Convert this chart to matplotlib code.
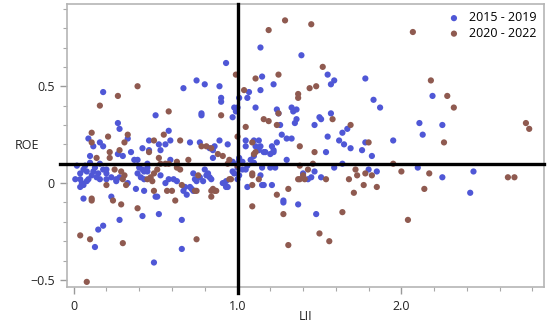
import matplotlib
matplotlib.use("Agg")
import matplotlib.pyplot as plt
from matplotlib.ticker import FixedLocator, MultipleLocator

plt.rcParams['font.family'] = ['Open Sans', 'DejaVu Sans']

# 2015 - 2019 (LII, ROE)
lii_a = [1.14, 1.39, 0.93, 1.15, 1.22, 0.75, 0.80, 0.89, 0.67, 0.18, 0.90, 0.90, 1.07, 1.06, 1.14,
         1.01, 0.98, 1.00, 0.99, 1.11, 1.24, 1.33, 1.36, 0.50, 0.78, 0.78, 0.97, 1.55, 1.57, 1.59,
         1.78, 1.83, 1.87, 2.19, 1.57, 1.50, 1.51, 1.47, 1.67, 1.64, 1.55, 1.62, 1.65, 1.69, 1.78,
         1.76, 1.95, 2.11, 2.13, 2.25, 1.54, 1.82, 1.30, 1.25, 1.26, 1.27, 1.34, 1.36, 1.35, 1.33,
         0.27, 0.28, 0.09, 0.12, 0.16, 0.18, 0.33, 0.58, 0.59, 0.56, 0.46, 0.52, 0.71, 0.77, 0.89,
         0.94, 0.86, 0.83, 0.85, 1.05, 1.05, 1.13, 1.14, 1.21, 1.10, 1.11, 1.13, 1.16, 1.20, 1.22,
         1.24, 1.30, 0.42, 0.35, 0.27, 0.30, 0.53, 0.46, 0.10, 0.85, 1.10, 1.17, 1.22, 1.01, 1.01,
         0.37, 0.39, 0.59, 1.64, 1.59, 2.10, 1.80, 1.85, 1.40, 1.45, 1.47, 1.51, 1.43, 2.25, 2.44,
         2.42, 1.28, 1.28, 1.37, 1.48,
         0.10, 0.16, 0.45, 0.97, 1.00, 1.03, 1.06, 1.10, 1.08, 1.00, 1.03, 1.05, 0.73, 0.80, 0.82,
         0.83, 0.84, 0.81, 0.97, 0.98, 0.91, 0.93, 1.15, 1.20, 1.23, 1.15, 1.06, 0.71, 0.73, 0.93,
         0.94, 1.00, 1.01, 1.14, 1.16, 1.21, 0.61, 0.63, 0.56, 0.58, 0.20, 0.23, 0.26, 0.26, 0.33,
         0.28, 0.41, 0.43, 0.38, 0.43, 0.50, 0.51, 0.69, 0.68, 0.72, 0.06, 0.23, 0.42, 0.52, 0.66,
         0.67, 0.28, 0.15, 0.18, 0.13, 0.49, 0.66,
         0.01, 0.04, 0.04, 0.06, 0.08, 0.05, 0.04, 0.06, 0.08, 0.12, 0.13, 0.15, 0.18, 0.20, 0.20,
         0.02, 0.07, 0.11, 0.14, 0.09, 0.16, 0.39, 0.40, 0.43, 0.45, 0.45, 0.42, 0.77, 0.74, 0.79,
         0.75, 0.53]
roe_a = [0.70, 0.66, 0.62, 0.55, 0.51, 0.53, 0.51, 0.50, 0.49, 0.47, 0.44, 0.42, 0.47, 0.44, 0.48,
         0.44, 0.39, 0.39, 0.37, 0.39, 0.38, 0.39, 0.38, 0.35, 0.36, 0.35, 0.34, 0.56, 0.51, 0.53,
         0.54, 0.43, 0.39, 0.45, 0.36, 0.34, 0.33, 0.30, 0.28, 0.26, 0.24, 0.22, 0.20, 0.18, 0.21,
         0.17, 0.22, 0.31, 0.25, 0.30, 0.16, 0.14, 0.12, 0.36, 0.30, 0.25, 0.37, 0.33, 0.31, 0.23,
         0.31, 0.28, 0.23, 0.19, 0.21, 0.19, 0.23, 0.27, 0.22, 0.20, 0.22, 0.20, 0.21, 0.21, 0.22,
         0.20, 0.19, 0.18, 0.17, 0.22, 0.19, 0.22, 0.19, 0.19, 0.22, 0.19, 0.17, 0.16, 0.15, 0.17,
         0.21, 0.23, 0.18, 0.16, 0.15, 0.14, 0.17, 0.17, 0.14, 0.13, 0.14, 0.16, 0.16, 0.13, 0.12,
         0.12, 0.12, 0.12, 0.10, 0.08, 0.08, 0.07, 0.06, 0.05, 0.03, 0.06, 0.03, 0.02, 0.03, 0.06,
         -0.05, -0.09, -0.10, -0.11, -0.16,
         0.105, 0.10, 0.10, 0.11, 0.10, 0.11, 0.09, 0.105, 0.12, 0.08, 0.07, 0.07, 0.05, 0.07, 0.05,
         0.03, 0.02, 0.04, 0.06, 0.05, 0.00, 0.01, 0.08, 0.08, 0.08, -0.01, -0.02, -0.02, -0.04, -0.02,
         -0.02, 0.02, 0.04, 0.04, -0.01, -0.01, 0.02, 0.01, 0.00, 0.02, 0.02, 0.03, 0.01, 0.02, 0.00,
         0.03, 0.03, 0.02, -0.03, -0.04, -0.07, -0.07, -0.06, -0.02, -0.03, -0.08, -0.07, -0.17, -0.16, -0.19,
         -0.04, -0.19, -0.24, -0.22, -0.33, -0.41, -0.34,
         0.02, 0.02, -0.02, -0.01, 0.01, 0.00, 0.05, 0.07, 0.06, 0.06, 0.08, 0.05, 0.07, 0.05, 0.07,
         0.09, 0.09, 0.04, 0.03, 0.02, 0.02, 0.05, 0.08, 0.06, 0.08, 0.06, 0.07, 0.03, 0.02, 0.01,
         0.01, 0.04]

# 2020 - 2022 (LII, ROE)
lii_b = [1.29, 1.19, 1.45, 2.07, 0.99, 1.11, 1.25, 0.39, 0.27, 0.16, 1.04, 1.37, 1.37, 0.58, 1.25,
         0.90, 1.52, 1.44, 1.48, 2.18, 2.28, 2.32, 1.16, 1.19, 1.05, 1.00, 1.24, 1.58, 1.69, 1.80,
         2.26, 2.76, 2.78, 1.47, 1.38,
         0.11, 0.11, 0.21, 0.33, 0.31, 0.55, 0.49, 0.65, 0.81, 0.78, 1.09, 0.22, 0.14, 0.22, 0.28,
         0.46, 0.70, 0.88, 0.91, 1.11, 1.10, 0.84, 0.52, 0.53, 0.56, 0.58, 0.63, 0.95, 0.94, 1.00,
         1.46, 1.95, 1.38, 1.43, 1.41, 1.37, 1.54, 1.72, 1.73, 1.68, 1.78, 1.82, 1.77, 1.85, 1.71,
         2.00, 2.17, 2.65, 2.69, 2.14, 1.31, 1.24, 1.28, 1.64, 2.04, 1.50, 1.56, 1.31, 1.40, 1.38,
         1.09, 1.09, 1.09, 1.13, 1.09, 0.95, 0.96, 0.76, 0.74, 0.75, 0.84, 0.86, 0.84, 0.87, 0.85,
         0.66, 0.57, 0.60, 0.62, 0.49, 0.45, 0.47, 0.49, 0.51, 0.48, 0.63, 0.65, 0.25, 0.29, 0.30,
         0.31, 0.32, 0.20, 0.11, 0.11, 0.24, 0.29, 0.39, 0.04, 0.10, 0.30, 0.75, 0.08]
roe_b = [0.84, 0.79, 0.82, 0.78, 0.56, 0.54, 0.56, 0.50, 0.45, 0.40, 0.48, 0.46, 0.44, 0.37, 0.36,
         0.35, 0.60, 0.49, 0.50, 0.53, 0.45, 0.39, 0.33, 0.32, 0.29, 0.24, 0.30, 0.33, 0.30, 0.21,
         0.21, 0.31, 0.28, 0.16, 0.19,
         0.26, 0.21, 0.24, 0.25, 0.21, 0.25, 0.22, 0.22, 0.19, 0.19, 0.21, 0.16, 0.13, 0.13, 0.17,
         0.16, 0.12, 0.15, 0.14, 0.16, 0.15, 0.18, 0.13, 0.10, 0.10, 0.10, 0.11, 0.12, 0.10, 0.09,
         0.10, 0.10, 0.09, 0.07, 0.02, 0.02, 0.02, 0.07, 0.04, 0.02, 0.05, 0.04, -0.01, -0.02, -0.05,
         0.06, 0.05, 0.03, 0.03, -0.03, -0.03, -0.06, -0.16, -0.15, -0.19, -0.26, -0.30, -0.32, 0.04, 0.02,
         -0.12, -0.01, 0.04, 0.02, 0.05, 0.02, 0.02, 0.04, -0.04, -0.04, -0.04, -0.04, -0.07, -0.04, -0.03,
         -0.01, -0.04, -0.04, -0.09, -0.04, 0.02, 0.03, 0.05, 0.07, 0.01, 0.08, 0.07, 0.07, 0.06, 0.02,
         0.04, -0.01, -0.01, -0.08, -0.09, -0.09, -0.11, -0.13, -0.27, -0.29, -0.31, -0.29, -0.51]

fig = plt.figure(figsize=(5.5, 3.27), dpi=100)
ax = fig.add_axes([0.122, 0.122, 0.867, 0.866])

ax.scatter(lii_a, roe_a, s=20, color='#4f57d6', edgecolors='none', label='2015 - 2019', zorder=3)
ax.scatter(lii_b, roe_b, s=20, color='#8f5a50', edgecolors='none', label='2020 - 2022', zorder=3)

ax.set_xlim(-0.04, 2.87)
ax.set_ylim(-0.537, 0.925)

# reference lines, drawn slightly past the frame like the original
ax.plot([1.0, 1.0], [-0.565, 0.925], color='black', lw=2.4, clip_on=False, zorder=4)
ax.plot([-0.083, 2.87], [0.1, 0.1], color='black', lw=2.4, clip_on=False, zorder=4)

ax.xaxis.set_major_locator(FixedLocator([0, 1.0, 2.0]))
ax.set_xticklabels(['0', '1.0', '2.0'])
ax.xaxis.set_minor_locator(MultipleLocator(0.2))
ax.yaxis.set_major_locator(FixedLocator([-0.5, 0, 0.5]))
ax.set_yticklabels(['\u22120.5', '0', '0.5'])
ax.yaxis.set_minor_locator(MultipleLocator(0.1))

for sp in ax.spines.values():
    sp.set_color('#b5b5b5')
    sp.set_linewidth(1.2)
ax.tick_params(which='major', length=5, width=1, color='#9a9a9a', labelsize=9, labelcolor='#222222', pad=4)
ax.tick_params(which='minor', length=3, width=0.8, color='#a8a8a8')

ax.set_xlabel('LII', fontsize=9, color='#222222', va='center')
ax.xaxis.set_label_coords(0.5, -0.105)
ax.set_ylabel('ROE', fontsize=9, color='#222222', rotation=0, ha='center', va='center')
ax.yaxis.set_label_coords(-0.085, 0.5)

ax.legend(loc='upper right', frameon=False, fontsize=9, handletextpad=0.6, borderaxespad=0.2,
          labelspacing=0.2, markerscale=1.0, handlelength=1.2)

fig.savefig('out.png', dpi=100)
